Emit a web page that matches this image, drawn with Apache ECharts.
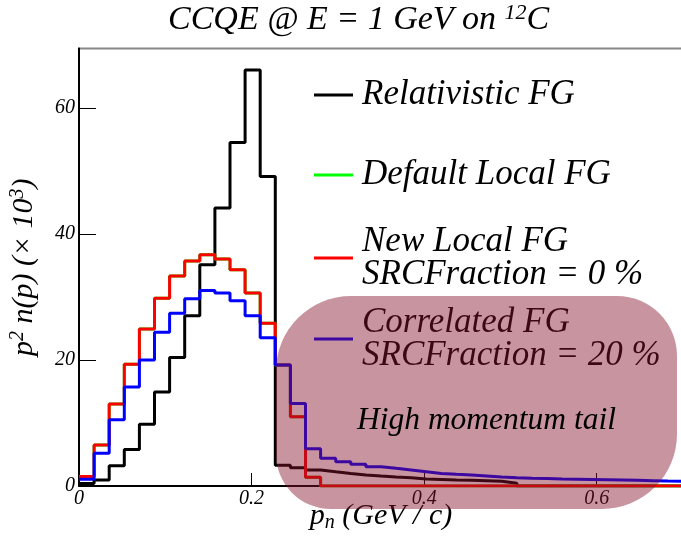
<!DOCTYPE html>
<html><head><meta charset="utf-8">
<script src="https://cdn.jsdelivr.net/npm/echarts@6/dist/echarts.min.js"></script>
<style>html,body{margin:0;padding:0;background:#fff}#chart{width:681px;height:537px}</style>
</head><body><div id="chart"></div>
<script>
// ---- data ----
const binWidth = 0.0175;          // 40 bins from 0 to 0.7 GeV/c
const nBins = 40;
const xTickValues = [0, 0.2, 0.4, 0.6];
const yTickValues = [0, 20, 40, 60];
const seriesNames = [
  'Relativistic FG',
  'Default Local FG',
  'New Local FG\nSRCFraction = 0 %',
  'Correlated FG\nSRCFraction = 20 %'
];
const seriesColors = ['#000000', '#00ff00', '#ff0000', '#0000ff'];
const relativisticFG = [0.4, 0.95, 3.2, 5.8, 9.8, 14.9, 20.4, 27.0, 35.1, 44.1,
  54.5, 66.0, 49.1, 3.3, 2.9, 2.55, 2.27, 2.0, 1.75, 1.58,
  1.43, 1.3, 1.12, 1.05, 0.95, 0.9, 0.85, 0.75, 0.45, 0,
  0, 0, 0, 0, 0, 0, 0, 0, 0, 0];
const defaultLocalFG = [1.5, 6.5, 13.0, 19.3, 24.9, 29.8, 33.3, 35.7, 36.7, 36.0,
  34.3, 30.6, 25.8, 19.2, 11.0, 1.4, 0, 0, 0, 0,
  0, 0, 0, 0, 0, 0, 0, 0, 0, 0,
  0, 0, 0, 0, 0, 0, 0, 0, 0, 0];
const newLocalFG = [1.5, 6.5, 13.0, 19.3, 24.9, 29.8, 33.3, 35.7, 36.7, 36.0,
  34.3, 30.6, 25.8, 19.2, 11.0, 1.4, 0, 0, 0, 0,
  0, 0, 0, 0, 0, 0, 0, 0, 0, 0,
  0, 0, 0, 0, 0, 0, 0, 0, 0, 0];
const correlatedFG = [1.06, 5.2, 10.5, 15.7, 20.0, 24.4, 27.4, 29.7, 31.0, 30.6,
  29.4, 27.0, 23.5, 19.2, 13.1, 5.9, 4.4, 3.86, 3.44, 3.07,
  2.8, 2.54, 2.27, 2.0, 1.85, 1.75, 1.59, 1.43, 1.32, 1.22,
  1.17, 1.12, 1.08, 1.04, 1.0, 0.95, 0.9, 0.85, 0.8, 0.76];
const allSeries = [relativisticFG, defaultLocalFG, newLocalFG, correlatedFG];

// ---- helpers ----
const FF = '"Liberation Serif", "Times New Roman", serif';
function histData(vals) {
  const d = vals.map((v, i) => [i * binWidth, v]);
  d.push([nBins * binWidth, vals[vals.length - 1]]);
  return d;
}
const isTick = (v, arr) => arr.some(t => Math.abs(t - v) < 1e-9);

const legendTops = [77.5, 157.5, 224, 305];

const chart = echarts.init(document.getElementById('chart'), null, {renderer: 'canvas'});
chart.setOption({
  animation: false,
  backgroundColor: '#ffffff',
  title: {
    left: 168, top: 2, padding: 0,
    text: '{a|CCQE @ E = 1 GeV on }{s|12}{a|C}',
    textStyle: {
      fontFamily: FF, fontStyle: 'italic', fontWeight: 'normal', fontSize: 34, color: '#000',
      rich: {
        a: {fontFamily: FF, fontStyle: 'italic', fontSize: 34, lineHeight: 36, color: '#000'},
        s: {fontFamily: FF, fontStyle: 'italic', fontSize: 22, lineHeight: 24, verticalAlign: 'top', color: '#000'}
      }
    }
  },
  legend: seriesNames.map((n, i) => ({
    data: [n],
    left: 314, top: legendTops[i], padding: 0,
    orient: 'vertical',
    icon: 'rect', itemWidth: 39, itemHeight: 3,
    selectedMode: false,
    itemStyle: {color: seriesColors[i]},
    textStyle: {fontFamily: FF, fontStyle: 'italic', fontSize: 35, lineHeight: 33, color: '#000', padding: [0, 0, 0, 4]}
  })),
  grid: {
    left: 79, right: -2, top: 48.5, bottom: 51,
    containLabel: false, outerBoundsMode: 'none',
    show: true, borderColor: '#888', borderWidth: 2, backgroundColor: 'transparent'
  },
  xAxis: {
    type: 'value', min: 0, max: 0.7, interval: 0.2,
    splitLine: {show: false},
    axisLine: {show: true, onZero: false, lineStyle: {color: '#000', width: 2}},
    axisTick: {show: true, inside: true, length: 13, customValues: xTickValues, lineStyle: {color: '#000', width: 1}},
    axisLabel: {
      margin: 3, fontFamily: FF, fontStyle: 'italic', fontSize: 20, color: '#000',
      formatter: v => isTick(v, xTickValues) ? (v === 0 ? '0' : v.toFixed(1)) : ''
    },
    name: '{t|p}{b|n}{t| (GeV / c)}',
    nameLocation: 'middle', nameGap: 14, nameMoveOverlap: false,
    nameTextStyle: {
      fontFamily: FF, fontStyle: 'italic', fontSize: 30, color: '#000',
      rich: {
        t: {fontFamily: FF, fontStyle: 'italic', fontSize: 30, lineHeight: 33, color: '#000'},
        b: {fontFamily: FF, fontStyle: 'italic', fontSize: 20, lineHeight: 5.5, verticalAlign: 'bottom', color: '#000'}
      }
    }
  },
  yAxis: {
    type: 'value', min: 0, max: 69.4, interval: 20,
    splitLine: {show: false},
    axisLine: {show: true, lineStyle: {color: '#000', width: 2}},
    axisTick: {show: true, inside: true, length: 17, customValues: yTickValues, lineStyle: {color: '#000', width: 1}},
    axisLabel: {
      margin: 4, fontFamily: FF, fontStyle: 'italic', fontSize: 20, color: '#000',
      formatter: v => isTick(v, yTickValues) ? String(v) : ''
    },
    name: '{t|p}{s|2}{t| n(p) (× 10}{s|3}{t|)}',
    nameLocation: 'middle', nameRotate: 90, nameGap: 38, nameMoveOverlap: false,
    nameTextStyle: {
      fontFamily: FF, fontStyle: 'italic', fontSize: 30, color: '#000',
      rich: {
        t: {fontFamily: FF, fontStyle: 'italic', fontSize: 30, lineHeight: 33, color: '#000'},
        s: {fontFamily: FF, fontStyle: 'italic', fontSize: 20, lineHeight: 16, verticalAlign: 'top', color: '#000'}
      }
    }
  },
  series: allSeries.map((vals, i) => ({
    name: seriesNames[i],
    type: 'line', step: 'end', symbol: 'none', clip: true,
    data: histData(vals),
    color: seriesColors[i],
    itemStyle: {color: seriesColors[i]},
    lineStyle: {color: seriesColors[i], width: 3},
    z: 2 + i
  })),
  graphic: {
    z: 100,
    elements: [
      {
        type: 'rect', z: 100,
        shape: {x: 276, y: 296, width: 401, height: 213, r: [75, 60, 75, 55]},
        style: {fill: 'rgba(133,18,44,0.45)'}
      },
      {
        type: 'text', z: 101, x: 357, y: 421,
        style: {
          text: 'High momentum tail', fill: '#000',
          fontFamily: FF, fontStyle: 'italic', fontSize: 31.5,
          verticalAlign: 'middle', align: 'left'
        }
      }
    ]
  }
});
</script></body></html>
